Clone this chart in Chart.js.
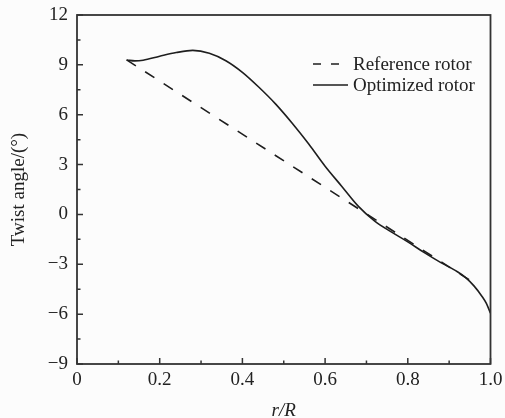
<!DOCTYPE html>
<html>
<head>
<meta charset="utf-8">
<script src="https://cdn.jsdelivr.net/npm/chart.js@4.4.1/dist/chart.umd.min.js"></script>
<style>
  html, body { margin: 0; padding: 0; background: #fcfcfc; }
  #wrap { width: 505px; height: 418px; }
  canvas { display: block; }
</style>
</head>
<body>
<div id="wrap"><canvas id="c" width="505" height="418"></canvas></div>
<script>
// Radial station r/R and twist angle (degrees) of the optimized blade
const radiusRatio = [0.12, 0.14, 0.16, 0.20, 0.24, 0.28, 0.32, 0.36, 0.40, 0.44, 0.48, 0.52,
                     0.56, 0.60, 0.64, 0.68, 0.72, 0.76, 0.80, 0.84, 0.88, 0.92, 0.94, 0.96, 0.98, 0.99, 1.00];
const optimizedTwist = [9.29, 9.24, 9.28, 9.52, 9.74, 9.87, 9.70, 9.25, 8.55, 7.65, 6.65, 5.50,
                        4.25, 2.90, 1.70, 0.50, -0.40, -1.05, -1.65, -2.30, -2.90, -3.45, -3.80, -4.30, -4.95, -5.35, -5.95];

// Baseline blade: linear twist distribution
const referenceRadius = [0.12, 0.965];
const referenceTwist = [9.30, -4.20];

// Axis ticks
const xTickValues = [0, 0.2, 0.4, 0.6, 0.8, 1.0];
const yTickValues = [-9, -6, -3, 0, 3, 6, 9, 12];

const seriesLabels = ['Reference rotor', 'Optimized rotor'];

const INK = '#222222';
const FRAME = '#333333';
const SERIF = '"Liberation Serif", "Times New Roman", serif';

const toPoints = (xs, ys) => xs.map((x, i) => ({ x: x, y: ys[i] }));
const fmtX = v => (v === 0 ? '0' : v.toFixed(1));
const fmtY = v => String(v).replace('-', '\u2212');

// Plot frame, inward tick marks and the in-plot legend
const framePlugin = {
  id: 'frame',
  beforeDraw(chart) {
    const ctx = chart.ctx;
    ctx.save();
    ctx.fillStyle = '#fcfcfc';
    ctx.fillRect(0, 0, chart.width, chart.height);
    ctx.restore();
  },
  afterDraw(chart) {
    const { ctx, chartArea: a, scales } = chart;
    const xs = scales.x, ys = scales.y;
    ctx.save();
    ctx.strokeStyle = FRAME;
    ctx.lineWidth = 1.8;
    ctx.strokeRect(a.left, a.top, a.right - a.left, a.bottom - a.top);

    ctx.lineWidth = 1.5;
    ctx.beginPath();
    yTickValues.forEach((v, i) => {
      const y = ys.getPixelForValue(v);
      ctx.moveTo(a.left, y); ctx.lineTo(a.left + 6, y);
      if (i < yTickValues.length - 1) {
        const m = ys.getPixelForValue((v + yTickValues[i + 1]) / 2);
        ctx.moveTo(a.left, m); ctx.lineTo(a.left + 3.5, m);
      }
    });
    xTickValues.forEach((v, i) => {
      const x = xs.getPixelForValue(v);
      ctx.moveTo(x, a.bottom); ctx.lineTo(x, a.bottom - 6);
      if (i < xTickValues.length - 1) {
        const m = xs.getPixelForValue((v + xTickValues[i + 1]) / 2);
        ctx.moveTo(m, a.bottom); ctx.lineTo(m, a.bottom - 3.5);
      }
    });
    ctx.stroke();

    // legend
    const x0 = 313, x1 = 348, rowY = [64, 85];
    chart.data.datasets.forEach((ds, i) => {
      ctx.strokeStyle = ds.borderColor;
      ctx.lineWidth = ds.borderWidth;
      ctx.setLineDash(ds.legendDash || []);
      ctx.beginPath();
      ctx.moveTo(x0, rowY[i]); ctx.lineTo(i === 0 ? 340 : x1, rowY[i]);
      ctx.stroke();
      ctx.setLineDash([]);
      ctx.fillStyle = INK;
      ctx.font = '19px ' + SERIF;
      ctx.textBaseline = 'middle';
      ctx.textAlign = 'left';
      ctx.fillText(ds.label, 353, rowY[i] + 1);
    });
    ctx.restore();
  }
};

Chart.defaults.font.family = SERIF;
Chart.defaults.color = INK;

new Chart(document.getElementById('c'), {
  type: 'line',
  data: {
    datasets: [
      {
        label: seriesLabels[0],
        data: toPoints(referenceRadius, referenceTwist),
        borderColor: '#1e1e1e',
        borderWidth: 1.6,
        borderDash: [11, 11],
        legendDash: [8, 10],
        pointRadius: 0,
        fill: false
      },
      {
        label: seriesLabels[1],
        data: toPoints(radiusRatio, optimizedTwist),
        borderColor: '#1e1e1e',
        borderWidth: 1.6,
        cubicInterpolationMode: 'monotone',
        pointRadius: 0,
        fill: false
      }
    ]
  },
  options: {
    responsive: false,
    animation: false,
    devicePixelRatio: 1,
    layout: { padding: { left: 0, right: 14.5, top: 15, bottom: 0 } },
    plugins: { legend: { display: false }, tooltip: { enabled: false } },
    scales: {
      x: {
        type: 'linear',
        min: 0, max: 1,
        afterBuildTicks(s) { s.ticks = xTickValues.map(v => ({ value: v })); },
        afterFit(s) { s.height = 54; s.paddingLeft = 0; s.paddingRight = 0; },
        grid: { display: false, drawTicks: false },
        border: { display: false },
        ticks: {
          padding: 5,
          maxRotation: 0,
          autoSkip: false,
          font: { size: 19, family: SERIF },
          color: INK,
          callback: v => fmtX(v)
        },
        title: {
          display: true,
          text: 'r/R',
          color: INK,
          font: { size: 19, style: 'italic', family: SERIF, lineHeight: 0.7 },
          padding: 0
        }
      },
      y: {
        type: 'linear',
        min: -9, max: 12,
        afterBuildTicks(s) { s.ticks = yTickValues.map(v => ({ value: v })); },
        afterFit(s) { s.width = 77; s.paddingTop = 0; s.paddingBottom = 0; },
        grid: { display: false, drawTicks: false },
        border: { display: false },
        ticks: {
          padding: 9,
          autoSkip: false,
          font: { size: 19, family: SERIF },
          color: INK,
          callback: v => fmtY(v)
        },
        title: {
          display: true,
          text: 'Twist angle/(\u00b0)',
          color: INK,
          font: { size: 19, family: SERIF },
          padding: { top: 8, bottom: 0 }
        }
      }
    }
  },
  plugins: [framePlugin]
});
</script>
</body>
</html>
